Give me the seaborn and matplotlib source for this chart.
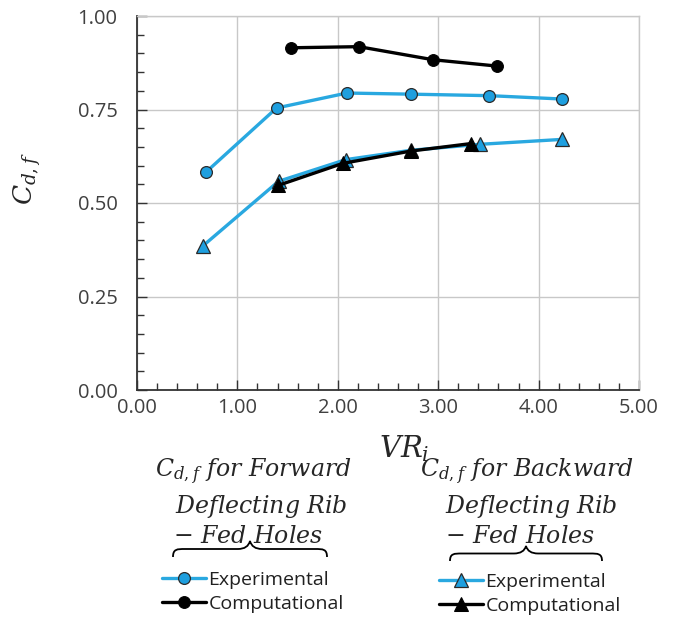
import numpy as np
import pandas as pd
import matplotlib
matplotlib.use("Agg")
import matplotlib.pyplot as plt
from matplotlib.path import Path
from matplotlib.patches import PathPatch
from matplotlib.ticker import MultipleLocator
import seaborn as sns

# ---- data ----
fwd_exp_x = [0.685, 1.39, 2.09, 2.73, 3.51, 4.235]
fwd_exp_y = [0.582, 0.754, 0.794, 0.791, 0.787, 0.778]
fwd_cmp_x = [1.53, 2.21, 2.95, 3.59]
fwd_cmp_y = [0.915, 0.918, 0.883, 0.866]
bwd_exp_x = [0.655, 1.41, 2.08, 2.73, 3.42, 4.23]
bwd_exp_y = [0.385, 0.558, 0.616, 0.641, 0.657, 0.670]
bwd_cmp_x = [1.405, 2.05, 2.73, 3.33]
bwd_cmp_y = [0.547, 0.606, 0.639, 0.659]

x_ticks = [0, 1, 2, 3, 4, 5]
y_ticks = [0.0, 0.25, 0.5, 0.75, 1.0]

sns.set_theme(style="white")
plt.rcParams['font.family'] = ['Open Sans', 'DejaVu Sans']
plt.rcParams['mathtext.fontset'] = 'dejavuserif'

W, H = 699, 617
fig = plt.figure(figsize=(W / 100, H / 100), dpi=100)
ax = fig.add_axes([137 / W, 1 - 390 / H, (639 - 137) / W, (390 - 16) / H])

BLUE = '#29A8E0'
BFACE = '#1E9FDF'
EDGE = '#2a2a2a'

def df(x, y):
    return pd.DataFrame({'x': x, 'y': y})

sns.lineplot(data=df(fwd_exp_x, fwd_exp_y), x='x', y='y', ax=ax, color=BLUE, lw=2.4,
             marker='o', markersize=8.5, markerfacecolor=BFACE, markeredgecolor=EDGE,
             markeredgewidth=0.9, sort=False)
sns.lineplot(data=df(fwd_cmp_x, fwd_cmp_y), x='x', y='y', ax=ax, color='black', lw=2.4,
             marker='o', markersize=8.5, markerfacecolor='black', markeredgecolor='black', sort=False)
sns.lineplot(data=df(bwd_exp_x, bwd_exp_y), x='x', y='y', ax=ax, color=BLUE, lw=2.4,
             marker='^', markersize=9.5, markerfacecolor=BFACE, markeredgecolor=EDGE,
             markeredgewidth=0.9, sort=False)
sns.lineplot(data=df(bwd_cmp_x, bwd_cmp_y), x='x', y='y', ax=ax, color='black', lw=2.4,
             marker='^', markersize=9.5, markerfacecolor='black', markeredgecolor='black', sort=False)
lines = ax.get_lines()
h_fe, h_fc, h_be, h_bc = lines[0], lines[1], lines[2], lines[3]

ax.set_xlim(0, 5)
ax.set_ylim(0, 1)
ax.set_xticks(x_ticks)
ax.set_yticks(y_ticks)
ax.set_xticklabels([f"{v:.2f}" for v in x_ticks])
ax.set_yticklabels([f"{v:.2f}" for v in y_ticks])
ax.xaxis.set_minor_locator(MultipleLocator(0.2))
ax.yaxis.set_minor_locator(MultipleLocator(0.05))
ax.tick_params(which='both', direction='in', color='#333333', labelsize=14.5, labelcolor='#404040')
ax.tick_params(which='major', length=7, width=1)
ax.tick_params(which='minor', length=5, width=1)
ax.tick_params(axis='x', which='both', top=False, bottom=True, pad=6)
ax.tick_params(axis='y', which='both', right=False, left=True, pad=14)
ax.grid(True, which='major', color='#c8c8c8', lw=1)
for s in ['top', 'right']:
    ax.spines[s].set_color('#c8c8c8')
    ax.spines[s].set_linewidth(1)
for s in ['left', 'bottom']:
    ax.spines[s].set_color('#333333')
    ax.spines[s].set_linewidth(1.3)
ax.set_xlabel('')
ax.set_ylabel('')

def fx(px):
    return px / W

def fy(py):
    return 1 - py / H

# axis labels
fig.text(fx(404), fy(449), r'$VR_i$', fontsize=21, ha='center', va='center')
fig.text(fx(27), fy(179), r'$C_{d,f}$', fontsize=19, ha='center', va='center', rotation=90)

# group captions
MS = 17
fig.text(fx(155), fy(472), r'$C_{d,f}\ for\ Forward$', fontsize=MS, ha='left', va='center')
fig.text(fx(175), fy(507), r'$Deflecting\ Rib$', fontsize=MS, ha='left', va='center')
fig.text(fx(173), fy(537), r'$-\ Fed\ Holes$', fontsize=MS, ha='left', va='center')
fig.text(fx(420), fy(472), r'$C_{d,f}\ for\ Backward$', fontsize=MS, ha='left', va='center')
fig.text(fx(445), fy(507), r'$Deflecting\ Rib$', fontsize=MS, ha='left', va='center')
fig.text(fx(445), fy(537), r'$-\ Fed\ Holes$', fontsize=MS, ha='left', va='center')

# curly braces (decoration)
def brace(x0, x1, ytop, ybot):
    xm = (x0 + x1) / 2
    ymid = (ytop + ybot) / 2
    pts = [
        (x0, ytop), (x0, ymid), (x0 + 4, ymid), (x0 + 12, ymid),
        (xm - 12, ymid), (xm - 2, ymid), (xm, ybot),
        (xm + 2, ymid), (xm + 12, ymid), (x1 - 12, ymid),
        (x1 - 4, ymid), (x1, ymid), (x1, ytop),
    ]
    codes = [Path.MOVETO, Path.CURVE4, Path.CURVE4, Path.CURVE4,
             Path.LINETO, Path.CURVE3, Path.CURVE3,
             Path.CURVE3, Path.CURVE3, Path.LINETO,
             Path.CURVE4, Path.CURVE4, Path.CURVE4]
    verts = [(fx(a), fy(b)) for a, b in pts]
    p = PathPatch(Path(verts, codes), transform=fig.transFigure, fill=False,
                  lw=1.3, color='black')
    fig.add_artist(p)

brace(173, 327, 557, 541)
brace(450, 602, 561, 546)

# legends
leg1 = fig.legend([h_fe, h_fc], ['Experimental', 'Computational'],
                  loc='upper left', bbox_to_anchor=(fx(152), fy(561)),
                  frameon=False, fontsize=14, handlelength=2.3, handletextpad=0.1,
                  labelspacing=0.32, borderpad=0)
leg2 = fig.legend([h_be, h_bc], ['Experimental', 'Computational'],
                  loc='upper left', bbox_to_anchor=(fx(429), fy(563)),
                  frameon=False, fontsize=14, handlelength=2.3, handletextpad=0.1,
                  labelspacing=0.32, borderpad=0)
for lg in (leg1, leg2):
    for t in lg.get_texts():
        t.set_color('#202020')

fig.savefig('out.png', dpi=100)
